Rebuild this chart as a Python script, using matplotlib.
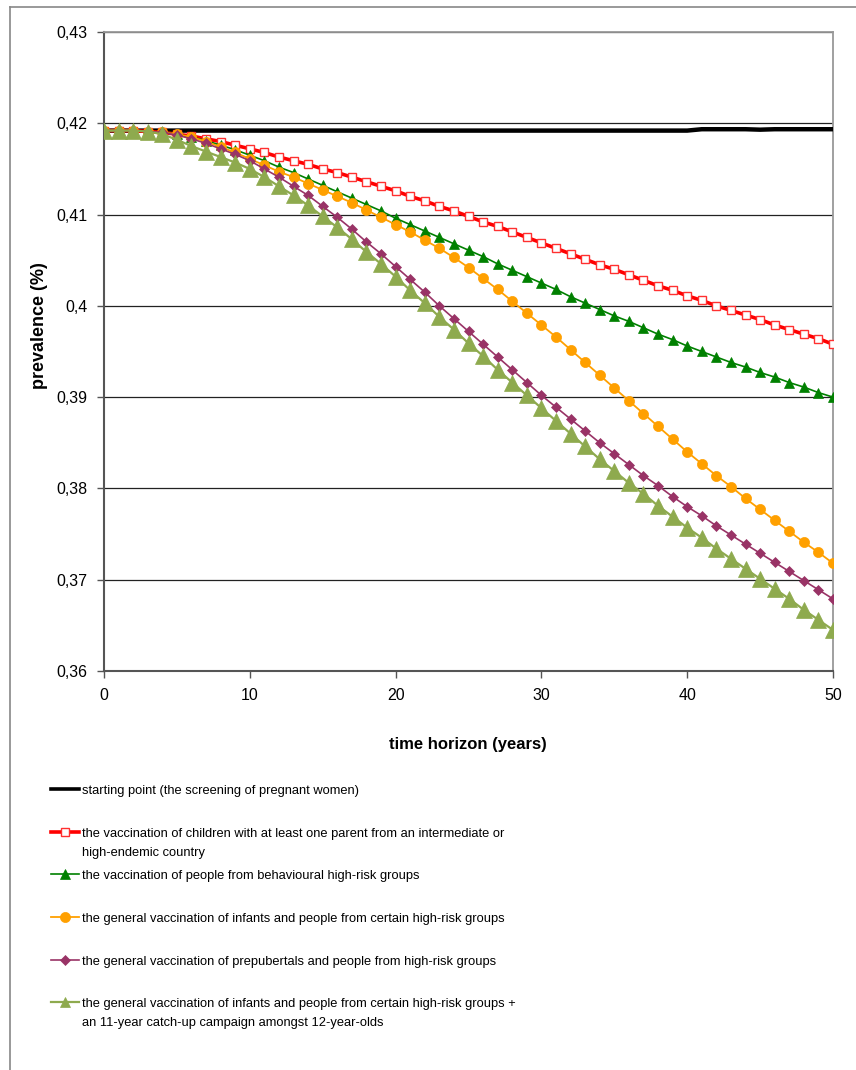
import numpy as np
import matplotlib
matplotlib.use('Agg')
import matplotlib.pyplot as plt
from matplotlib.lines import Line2D
from matplotlib import font_manager

years = list(range(0, 51))

screening = [0.4192] * 41 + [0.41935, 0.41935, 0.41935, 0.41935, 0.4193,
                             0.41935, 0.41935, 0.41935, 0.41935, 0.41935]

parent_country = [0.4192, 0.4192, 0.4192, 0.4191, 0.4190, 0.4188, 0.4186, 0.4183, 0.4180, 0.4176,
                  0.4172, 0.4168, 0.4163, 0.4159, 0.4155, 0.4150, 0.4146, 0.4141, 0.4136, 0.4131,
                  0.4126, 0.4120, 0.4115, 0.4109, 0.4104, 0.4098, 0.4092, 0.4087, 0.4081, 0.4075,
                  0.4069, 0.4063, 0.4057, 0.4051, 0.4045, 0.4040, 0.4034, 0.4028, 0.4022, 0.4017,
                  0.4011, 0.4006, 0.4000, 0.3995, 0.3990, 0.3985, 0.3979, 0.3974, 0.3969, 0.3964,
                  0.3958]

behavioural = [0.4192, 0.4192, 0.4192, 0.4191, 0.4190, 0.4188, 0.4185, 0.4181, 0.4176, 0.4171,
               0.4165, 0.4159, 0.4152, 0.4146, 0.4139, 0.4132, 0.4125, 0.4118, 0.4111, 0.4104,
               0.4096, 0.4089, 0.4082, 0.4075, 0.4068, 0.4061, 0.4054, 0.4046, 0.4039, 0.4032,
               0.4025, 0.4018, 0.4010, 0.4003, 0.3996, 0.3989, 0.3983, 0.3976, 0.3969, 0.3963,
               0.3956, 0.3950, 0.3944, 0.3938, 0.3933, 0.3927, 0.3922, 0.3916, 0.3911, 0.3905,
               0.3900]

infants = [0.4192, 0.4192, 0.4192, 0.4191, 0.4190, 0.4188, 0.4185, 0.4180, 0.4174, 0.4168,
           0.4161, 0.4154, 0.4147, 0.4141, 0.4134, 0.4127, 0.4120, 0.4113, 0.4105, 0.4097,
           0.4089, 0.4081, 0.4072, 0.4063, 0.4053, 0.4042, 0.4030, 0.4018, 0.4005, 0.3992,
           0.3979, 0.3966, 0.3952, 0.3938, 0.3924, 0.3910, 0.3896, 0.3882, 0.3868, 0.3854,
           0.3840, 0.3827, 0.3814, 0.3802, 0.3789, 0.3777, 0.3765, 0.3753, 0.3741, 0.3730,
           0.3718]

prepubertals = [0.4192, 0.4192, 0.4192, 0.4191, 0.4190, 0.4187, 0.4183, 0.4178, 0.4172, 0.4166,
                0.4159, 0.4150, 0.4141, 0.4131, 0.4121, 0.4109, 0.4097, 0.4084, 0.4070, 0.4057,
                0.4043, 0.4029, 0.4015, 0.4000, 0.3986, 0.3972, 0.3958, 0.3944, 0.3930, 0.3916,
                0.3902, 0.3889, 0.3876, 0.3863, 0.3850, 0.3838, 0.3826, 0.3814, 0.3803, 0.3791,
                0.3780, 0.3770, 0.3759, 0.3749, 0.3739, 0.3729, 0.3719, 0.3709, 0.3699, 0.3689,
                0.3679]

catch_up = [0.4192, 0.4192, 0.4192, 0.4191, 0.4188, 0.4182, 0.4175, 0.4169, 0.4163, 0.4157,
            0.4150, 0.4141, 0.4131, 0.4121, 0.4110, 0.4098, 0.4086, 0.4073, 0.4059, 0.4046,
            0.4032, 0.4017, 0.4003, 0.3988, 0.3974, 0.3959, 0.3945, 0.3930, 0.3916, 0.3902,
            0.3888, 0.3874, 0.3860, 0.3846, 0.3832, 0.3819, 0.3806, 0.3794, 0.3781, 0.3769,
            0.3757, 0.3746, 0.3734, 0.3723, 0.3712, 0.3701, 0.3690, 0.3679, 0.3667, 0.3656,
            0.3645]

labels = ['starting point (the screening of pregnant women)',
          'the vaccination of children with at least one parent from an intermediate or\nhigh-endemic country',
          'the vaccination of people from behavioural high-risk groups',
          'the general vaccination of infants and people from certain high-risk groups',
          'the general vaccination of prepubertals and people from high-risk groups',
          'the general vaccination of infants and people from certain high-risk groups +\nan 11-year catch-up campaign amongst 12-year-olds']

yticks = [0.36, 0.37, 0.38, 0.39, 0.40, 0.41, 0.42, 0.43]
xticks = [0, 10, 20, 30, 40, 50]

plt.rcParams['font.family'] = ['Liberation Sans', 'DejaVu Sans']
installed = {f.name for f in font_manager.fontManager.ttflist}
if 'Liberation Sans Narrow' in installed:
    legend_font = {'family': 'Liberation Sans Narrow', 'size': 11}
else:
    legend_font = {'family': 'Liberation Sans', 'size': 9.3}

W, H = 856, 1070
fig = plt.figure(figsize=(W / 100, H / 100), dpi=100)
ax = fig.add_axes([104 / W, 1 - 671 / H, (833 - 104) / W, (671 - 32) / H])

# series: (values, colour, marker, size, face, line width)
styles = [
    (screening, 'black', None, 0, None, 3.2),
    (parent_country, '#ff0000', 's', 6.3, 'white', 2.6),
    (behavioural, '#008000', '^', 7.5, '#008000', 1.2),
    (infants, '#ffa000', 'o', 7.3, '#ffa000', 1.3),
    (prepubertals, '#993366', 'D', 4.6, '#993366', 1.2),
    (catch_up, '#8eaa4e', '^', 11, '#8eaa4e', 1.6),
]

handles = []
for vals, col, mk, ms, face, lw in styles:
    if mk is None:
        h, = ax.plot(years, vals, color=col, lw=lw, solid_capstyle='butt', zorder=3)
    else:
        edge = col if face != 'white' else '#ff3030'
        h, = ax.plot(years, vals, color=col, lw=lw, marker=mk, ms=ms,
                     mfc=face, mec=edge, mew=1.0 if face == 'white' else 0.5, zorder=3)
    handles.append(h)

ax.set_xlim(0, 50)
ax.set_ylim(0.36, 0.43)
ax.set_xticks(xticks)
ax.set_yticks(yticks)
ax.set_yticklabels([f'{v:g}'.replace('.', ',') for v in yticks])
ax.tick_params(axis='both', direction='out', length=5, width=1, color='#555555',
               labelsize=11.5, labelcolor='black')
ax.tick_params(axis='y', pad=7)
ax.tick_params(axis='x', pad=7)
ax.grid(axis='y', color='#222222', lw=0.9, zorder=1)
for s in ['left', 'bottom']:
    ax.spines[s].set_color('#555555')
    ax.spines[s].set_linewidth(1.5)
for s in ['top', 'right']:
    ax.spines[s].set_color('#999999')
    ax.spines[s].set_linewidth(1.3)

fig.text(40 / W, 1 - 326 / H, 'prevalence (%)', rotation=90, ha='center', va='center',
         fontsize=13, fontweight='bold')
fig.text(468 / W, 1 - 745 / H, 'time horizon (years)', ha='center', va='center',
         fontsize=12, fontweight='bold')

# legend drawn by hand so the uneven spacing matches
legend_y = [789, 832, 874, 917, 960, 1002]
for h, lab, ly in zip(handles, labels, legend_y):
    yf = 1 - ly / H
    fig.add_artist(Line2D([51 / W, 79 / W], [yf, yf], color=h.get_color(), lw=min(h.get_linewidth(), 2.6)))
    if h.get_marker() not in (None, 'None', ''):
        fig.add_artist(Line2D([65 / W], [yf], marker=h.get_marker(), ms=min(h.get_markersize(), 7.5),
                              mfc=h.get_markerfacecolor(), mec=h.get_markeredgecolor(),
                              mew=h.get_markeredgewidth(), lw=0))
    fig.text(82 / W, 1 - (ly - 4) / H, lab, ha='left', va='top', linespacing=1.75, **legend_font)

# outer chart frame (top and left edges visible)
fig.add_artist(Line2D([10 / W, 1], [1 - 7 / H, 1 - 7 / H], color='#888888', lw=1.2))
fig.add_artist(Line2D([10 / W, 10 / W], [0, 1 - 7 / H], color='#888888', lw=1.2))

fig.savefig('out.png', dpi=100)
